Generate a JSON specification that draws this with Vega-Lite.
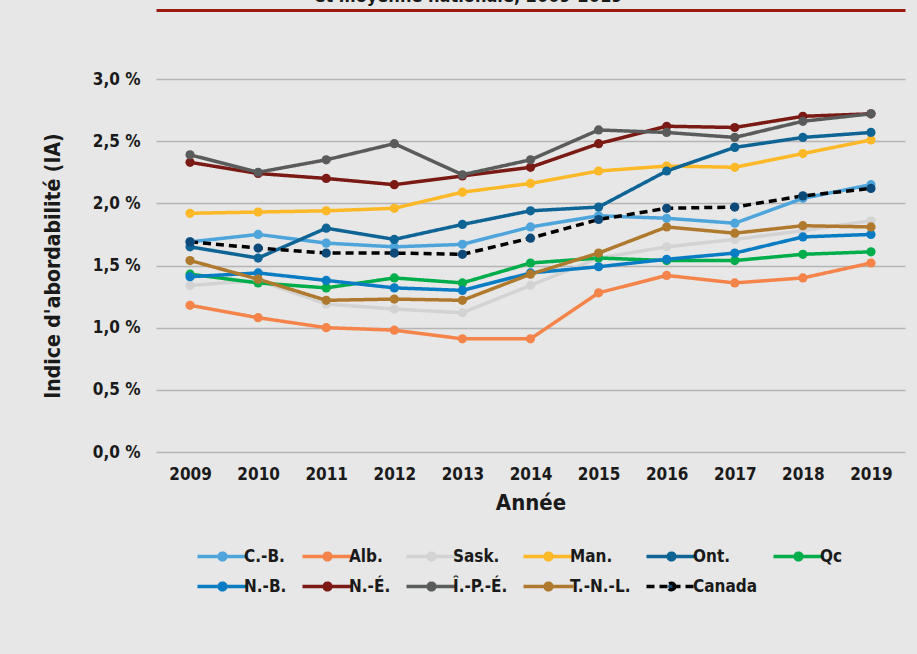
{
  "$schema": "https://vega.github.io/schema/vega-lite/v6.json",
  "autosize": "none",
  "width": 749,
  "height": 373,
  "padding": {"left": 156, "top": 79, "right": 12, "bottom": 202},
  "background": "#e6e7e6",
  "title": {
    "text": "et moyenne nationale, 2009-2019",
    "font": "Liberation Sans Narrow, DejaVu Sans Condensed, sans-serif",
    "fontSize": 18,
    "fontWeight": "bold",
    "color": "#1a1a1a",
    "anchor": "middle",
    "dx": -62,
    "offset": 4
  },
  "config": {
    "view": {"stroke": null},
    "font": "Liberation Sans Narrow, DejaVu Sans Condensed, sans-serif",
    "axis": {"labelFont": "Liberation Sans Narrow, DejaVu Sans Condensed, sans-serif", "titleFont": "Liberation Sans Narrow, DejaVu Sans Condensed, sans-serif"},
    "legend": {"labelFont": "Liberation Sans Narrow, DejaVu Sans Condensed, sans-serif"}
  },
  "data": {
    "values": [
      {"year": "2009", "prov": "Sask.", "v": 1.34}, {"year": "2010", "prov": "Sask.", "v": 1.38}, {"year": "2011", "prov": "Sask.", "v": 1.19}, {"year": "2012", "prov": "Sask.", "v": 1.15}, {"year": "2013", "prov": "Sask.", "v": 1.12}, {"year": "2014", "prov": "Sask.", "v": 1.34}, {"year": "2015", "prov": "Sask.", "v": 1.56}, {"year": "2016", "prov": "Sask.", "v": 1.65}, {"year": "2017", "prov": "Sask.", "v": 1.71}, {"year": "2018", "prov": "Sask.", "v": 1.78}, {"year": "2019", "prov": "Sask.", "v": 1.86},
      {"year": "2009", "prov": "Alb.", "v": 1.18}, {"year": "2010", "prov": "Alb.", "v": 1.08}, {"year": "2011", "prov": "Alb.", "v": 1.0}, {"year": "2012", "prov": "Alb.", "v": 0.98}, {"year": "2013", "prov": "Alb.", "v": 0.91}, {"year": "2014", "prov": "Alb.", "v": 0.91}, {"year": "2015", "prov": "Alb.", "v": 1.28}, {"year": "2016", "prov": "Alb.", "v": 1.42}, {"year": "2017", "prov": "Alb.", "v": 1.36}, {"year": "2018", "prov": "Alb.", "v": 1.4}, {"year": "2019", "prov": "Alb.", "v": 1.52},
      {"year": "2009", "prov": "Qc", "v": 1.43}, {"year": "2010", "prov": "Qc", "v": 1.36}, {"year": "2011", "prov": "Qc", "v": 1.32}, {"year": "2012", "prov": "Qc", "v": 1.4}, {"year": "2013", "prov": "Qc", "v": 1.36}, {"year": "2014", "prov": "Qc", "v": 1.52}, {"year": "2015", "prov": "Qc", "v": 1.56}, {"year": "2016", "prov": "Qc", "v": 1.54}, {"year": "2017", "prov": "Qc", "v": 1.54}, {"year": "2018", "prov": "Qc", "v": 1.59}, {"year": "2019", "prov": "Qc", "v": 1.61},
      {"year": "2009", "prov": "N.-B.", "v": 1.41}, {"year": "2010", "prov": "N.-B.", "v": 1.44}, {"year": "2011", "prov": "N.-B.", "v": 1.38}, {"year": "2012", "prov": "N.-B.", "v": 1.32}, {"year": "2013", "prov": "N.-B.", "v": 1.3}, {"year": "2014", "prov": "N.-B.", "v": 1.44}, {"year": "2015", "prov": "N.-B.", "v": 1.49}, {"year": "2016", "prov": "N.-B.", "v": 1.55}, {"year": "2017", "prov": "N.-B.", "v": 1.6}, {"year": "2018", "prov": "N.-B.", "v": 1.73}, {"year": "2019", "prov": "N.-B.", "v": 1.75},
      {"year": "2009", "prov": "T.-N.-L.", "v": 1.54}, {"year": "2010", "prov": "T.-N.-L.", "v": 1.39}, {"year": "2011", "prov": "T.-N.-L.", "v": 1.22}, {"year": "2012", "prov": "T.-N.-L.", "v": 1.23}, {"year": "2013", "prov": "T.-N.-L.", "v": 1.22}, {"year": "2014", "prov": "T.-N.-L.", "v": 1.43}, {"year": "2015", "prov": "T.-N.-L.", "v": 1.6}, {"year": "2016", "prov": "T.-N.-L.", "v": 1.81}, {"year": "2017", "prov": "T.-N.-L.", "v": 1.76}, {"year": "2018", "prov": "T.-N.-L.", "v": 1.82}, {"year": "2019", "prov": "T.-N.-L.", "v": 1.81},
      {"year": "2009", "prov": "C.-B.", "v": 1.69}, {"year": "2010", "prov": "C.-B.", "v": 1.75}, {"year": "2011", "prov": "C.-B.", "v": 1.68}, {"year": "2012", "prov": "C.-B.", "v": 1.65}, {"year": "2013", "prov": "C.-B.", "v": 1.67}, {"year": "2014", "prov": "C.-B.", "v": 1.81}, {"year": "2015", "prov": "C.-B.", "v": 1.9}, {"year": "2016", "prov": "C.-B.", "v": 1.88}, {"year": "2017", "prov": "C.-B.", "v": 1.84}, {"year": "2018", "prov": "C.-B.", "v": 2.04}, {"year": "2019", "prov": "C.-B.", "v": 2.15},
      {"year": "2009", "prov": "Man.", "v": 1.92}, {"year": "2010", "prov": "Man.", "v": 1.93}, {"year": "2011", "prov": "Man.", "v": 1.94}, {"year": "2012", "prov": "Man.", "v": 1.96}, {"year": "2013", "prov": "Man.", "v": 2.09}, {"year": "2014", "prov": "Man.", "v": 2.16}, {"year": "2015", "prov": "Man.", "v": 2.26}, {"year": "2016", "prov": "Man.", "v": 2.3}, {"year": "2017", "prov": "Man.", "v": 2.29}, {"year": "2018", "prov": "Man.", "v": 2.4}, {"year": "2019", "prov": "Man.", "v": 2.51},
      {"year": "2009", "prov": "Ont.", "v": 1.65}, {"year": "2010", "prov": "Ont.", "v": 1.56}, {"year": "2011", "prov": "Ont.", "v": 1.8}, {"year": "2012", "prov": "Ont.", "v": 1.71}, {"year": "2013", "prov": "Ont.", "v": 1.83}, {"year": "2014", "prov": "Ont.", "v": 1.94}, {"year": "2015", "prov": "Ont.", "v": 1.97}, {"year": "2016", "prov": "Ont.", "v": 2.26}, {"year": "2017", "prov": "Ont.", "v": 2.45}, {"year": "2018", "prov": "Ont.", "v": 2.53}, {"year": "2019", "prov": "Ont.", "v": 2.57},
      {"year": "2009", "prov": "N.-É.", "v": 2.33}, {"year": "2010", "prov": "N.-É.", "v": 2.24}, {"year": "2011", "prov": "N.-É.", "v": 2.2}, {"year": "2012", "prov": "N.-É.", "v": 2.15}, {"year": "2013", "prov": "N.-É.", "v": 2.22}, {"year": "2014", "prov": "N.-É.", "v": 2.29}, {"year": "2015", "prov": "N.-É.", "v": 2.48}, {"year": "2016", "prov": "N.-É.", "v": 2.62}, {"year": "2017", "prov": "N.-É.", "v": 2.61}, {"year": "2018", "prov": "N.-É.", "v": 2.7}, {"year": "2019", "prov": "N.-É.", "v": 2.72},
      {"year": "2009", "prov": "Î.-P.-É.", "v": 2.39}, {"year": "2010", "prov": "Î.-P.-É.", "v": 2.25}, {"year": "2011", "prov": "Î.-P.-É.", "v": 2.35}, {"year": "2012", "prov": "Î.-P.-É.", "v": 2.48}, {"year": "2013", "prov": "Î.-P.-É.", "v": 2.23}, {"year": "2014", "prov": "Î.-P.-É.", "v": 2.35}, {"year": "2015", "prov": "Î.-P.-É.", "v": 2.59}, {"year": "2016", "prov": "Î.-P.-É.", "v": 2.57}, {"year": "2017", "prov": "Î.-P.-É.", "v": 2.53}, {"year": "2018", "prov": "Î.-P.-É.", "v": 2.66}, {"year": "2019", "prov": "Î.-P.-É.", "v": 2.72},
      {"year": "2009", "prov": "Canada", "v": 1.69}, {"year": "2010", "prov": "Canada", "v": 1.64}, {"year": "2011", "prov": "Canada", "v": 1.6}, {"year": "2012", "prov": "Canada", "v": 1.6}, {"year": "2013", "prov": "Canada", "v": 1.59}, {"year": "2014", "prov": "Canada", "v": 1.72}, {"year": "2015", "prov": "Canada", "v": 1.87}, {"year": "2016", "prov": "Canada", "v": 1.96}, {"year": "2017", "prov": "Canada", "v": 1.97}, {"year": "2018", "prov": "Canada", "v": 2.06}, {"year": "2019", "prov": "Canada", "v": 2.12}
    ]
  },
  "encoding": {
    "y": {
      "field": "v",
      "type": "quantitative",
      "scale": {"domain": [0, 3], "nice": false},
      "axis": {
        "values": [0, 0.5, 1, 1.5, 2, 2.5, 3],
        "labelExpr": "replace(format(datum.value, '.1f'), '.', ',') + ' %'",
        "domain": false,
        "ticks": false,
        "grid": true,
        "gridColor": "#b5b5b5",
        "gridWidth": 1.5,
        "labelFontSize": 17,
        "labelFontWeight": "bold",
        "labelColor": "#1a1a1a",
        "labelPadding": 16,
        "title": "Indice d'abordabilité (IA)",
        "titleFontSize": 21,
        "titleFontWeight": "bold",
        "titleColor": "#1a1a1a",
        "titlePadding": 29
      }
    }
  },
  "layer": [
    {
      "mark": {"type": "line", "strokeWidth": 3.5},
      "encoding": {
        "x": {
          "field": "year",
          "type": "ordinal",
          "axis": {
            "orient": "bottom",
            "labelAngle": 0,
            "ticks": false,
            "domain": false,
            "grid": false,
            "labelFontSize": 17,
            "labelFontWeight": "bold",
            "labelColor": "#1a1a1a",
            "labelPadding": 14,
            "title": "Année",
            "titleFontSize": 22,
            "titleFontWeight": "bold",
            "titleColor": "#1a1a1a",
            "titlePadding": 10
          }
        },
        "stroke": {
          "field": "prov",
          "type": "nominal",
          "scale": {
            "domain": ["C.-B.", "Alb.", "Sask.", "Man.", "Ont.", "Qc", "N.-B.", "N.-É.", "Î.-P.-É.", "T.-N.-L.", "Canada"],
            "range": ["#4ea5dc", "#f4844a", "#d3d3d3", "#fdb827", "#0f6496", "#00ad4b", "#0a7cc4", "#7b1a14", "#5a5b5b", "#b07a2e", "#000000"]
          },
          "legend": {
            "orient": "none",
            "legendX": 48,
            "legendY": 459,
            "direction": "horizontal",
            "columns": 6,
            "title": null,
            "symbolType": "M-1.5,0H1.5M0.2,0A0.2,0.2,0,1,1,-0.2,0A0.2,0.2,0,1,1,0.2,0Z",
            "symbolSize": 1111,
            "symbolStrokeWidth": 3.5,
            "labelFontSize": 17,
            "labelFontWeight": "bold",
            "labelColor": "#1a1a1a",
            "labelOffset": 3,
            "columnPadding": 8,
            "rowPadding": 1,
            "gridAlign": "none",
            "encode": {"symbols": {"update": {"fill": {"scale": "fill", "field": "value"}}}}
          }
        },
        "strokeDash": {
          "field": "prov",
          "type": "nominal",
          "scale": {
            "domain": ["C.-B.", "Alb.", "Sask.", "Man.", "Ont.", "Qc", "N.-B.", "N.-É.", "Î.-P.-É.", "T.-N.-L.", "Canada"],
            "range": [[1, 0], [1, 0], [1, 0], [1, 0], [1, 0], [1, 0], [1, 0], [1, 0], [1, 0], [1, 0], [8, 5]]
          }
        }
      }
    },
    {
      "mark": {"type": "point", "filled": true, "size": 85, "opacity": 1},
      "encoding": {
        "x": {
          "field": "year",
          "type": "ordinal",
          "axis": {
            "orient": "top",
            "labels": false,
            "ticks": false,
            "grid": false,
            "title": null,
            "domain": true,
            "domainColor": "#9a1a10",
            "domainWidth": 3,
            "offset": 69
          }
        },
        "fill": {
          "field": "prov",
          "type": "nominal",
          "scale": {
            "domain": ["C.-B.", "Alb.", "Sask.", "Man.", "Ont.", "Qc", "N.-B.", "N.-É.", "Î.-P.-É.", "T.-N.-L.", "Canada"],
            "range": ["#4ea5dc", "#f4844a", "#d3d3d3", "#fdb827", "#0f6496", "#00ad4b", "#0a7cc4", "#7b1a14", "#5a5b5b", "#b07a2e", "#0d4a7a"]
          }
        }
      }
    }
  ]
}
